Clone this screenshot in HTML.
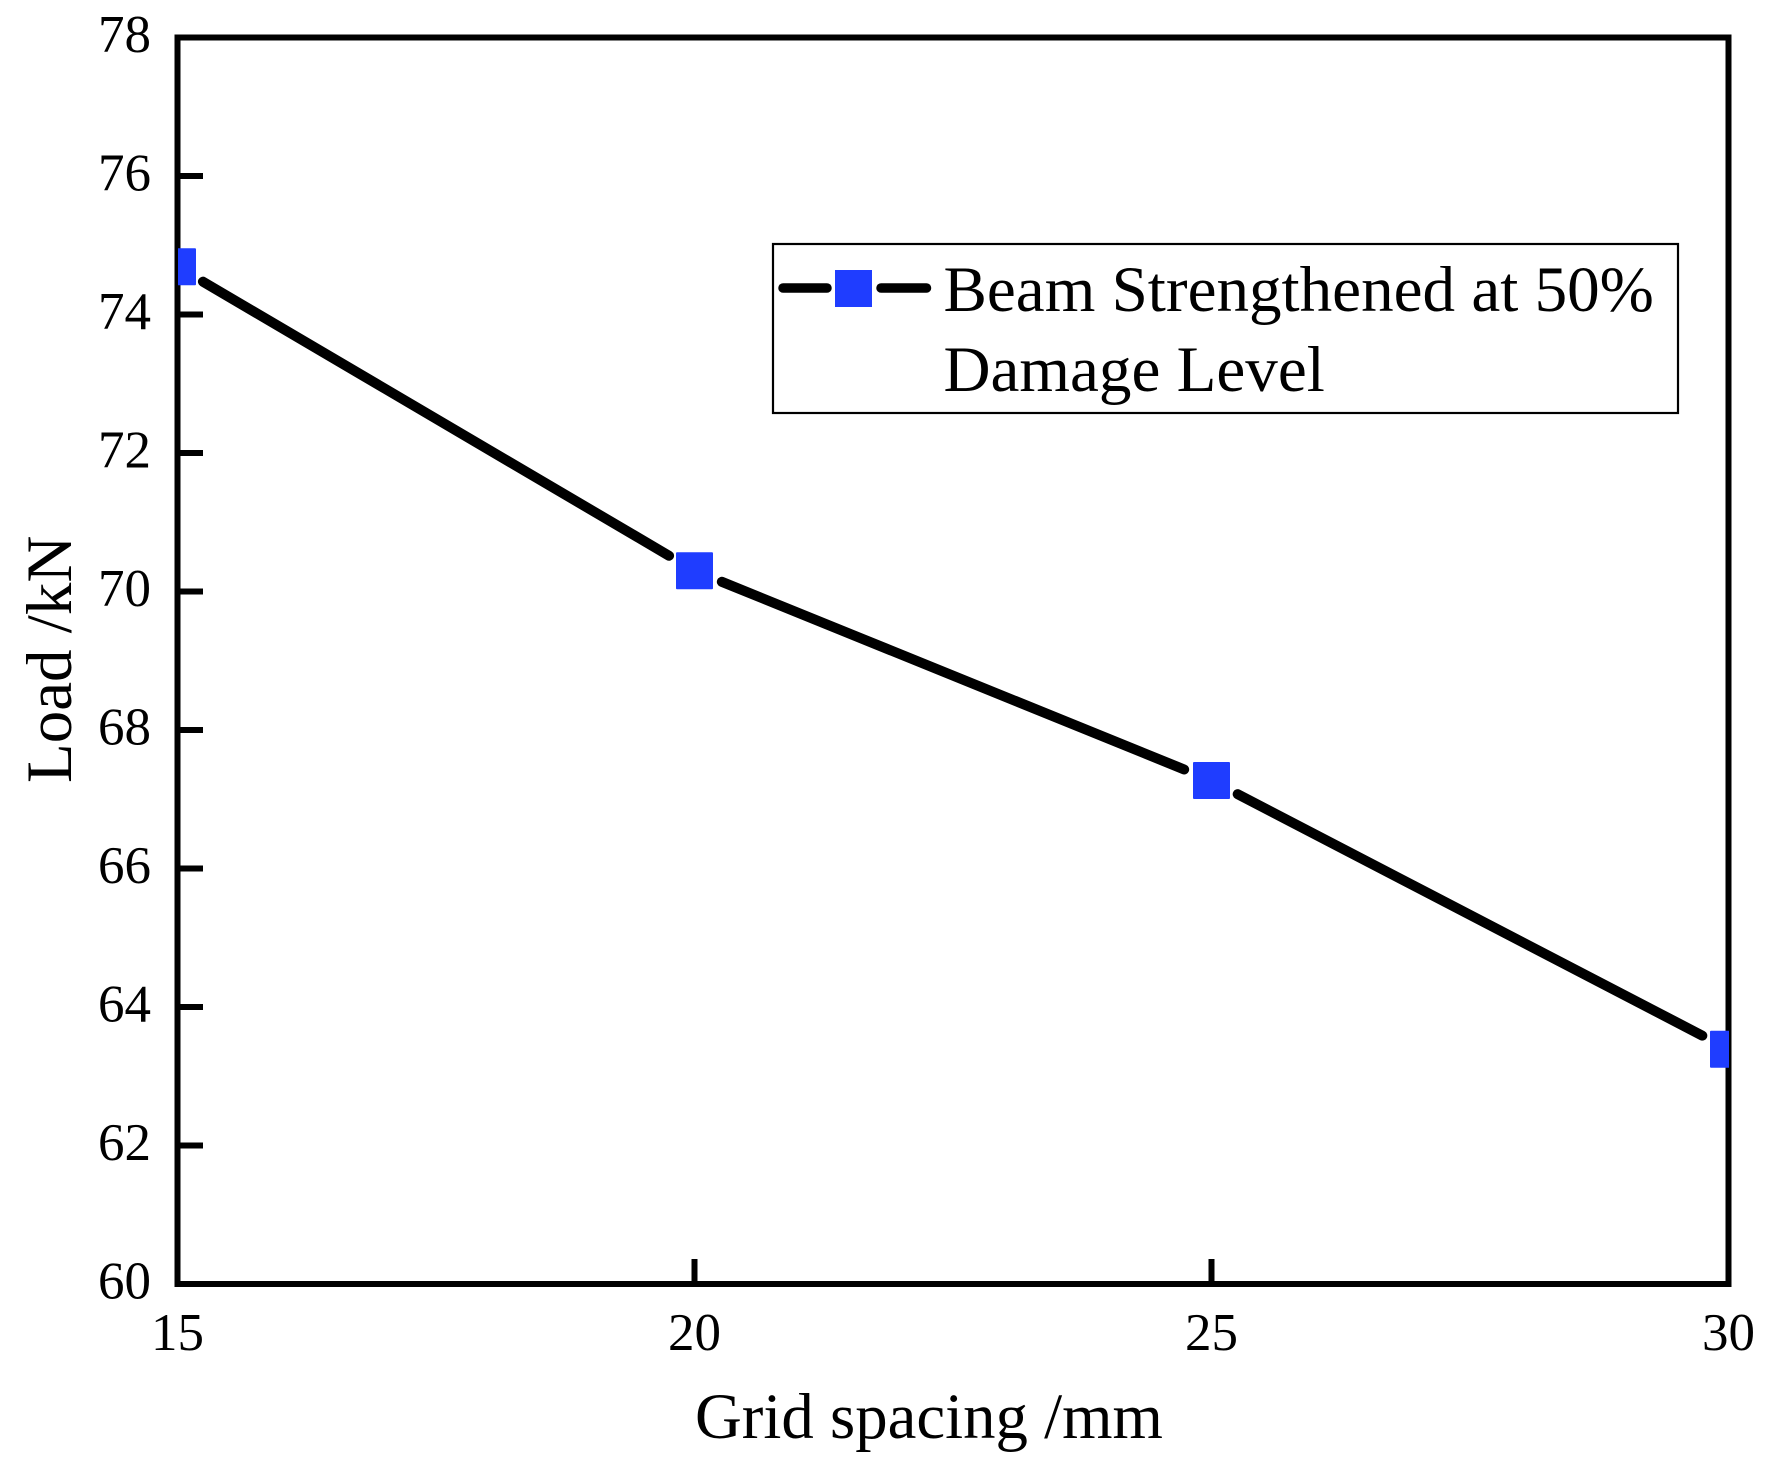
<!DOCTYPE html>
<html lang="en">
<head>
<meta charset="utf-8">
<title>Load vs Grid spacing</title>
<style>
html,body{margin:0;padding:0;background:#fff;}
svg{display:block;}
text{font-family:"Liberation Serif",serif;fill:#000;}
</style>
</head>
<body>
<svg id="chart" xmlns="http://www.w3.org/2000/svg" width="1773" height="1474" viewBox="0 0 1773 1474">
  <rect x="0" y="0" width="1773" height="1474" fill="#fff"/>
  <defs>
    <clipPath id="plot-clip"><rect x="178" y="37.5" width="1551" height="1246.5"/></clipPath>
  </defs>
  <rect x="177.5" y="37.5" width="1551" height="1246.5" fill="none" stroke="#000" stroke-width="6"/>
  <g id="ticks"></g>
  <g id="series" clip-path="url(#plot-clip)"></g>
  <text x="695" y="1438" font-size="64.8">Grid spacing /mm</text>
  <text transform="translate(71,783) rotate(-90)" font-size="65">Load /kN</text>
  <g>
    <rect x="773" y="244" width="905" height="169" fill="#fff" stroke="#000" stroke-width="2.2"/>
    <line x1="783" y1="288" x2="827" y2="288" stroke="#000" stroke-width="9.5" stroke-linecap="round"/>
    <line x1="881" y1="288" x2="926.5" y2="288" stroke="#000" stroke-width="9.5" stroke-linecap="round"/>
    <rect x="835" y="270" width="37" height="37" fill="#1f3dff"/>
    <text x="943.5" y="311" font-size="65.1">Beam Strengthened at 50%</text>
    <text x="943.5" y="391" font-size="65.1">Damage Level</text>
  </g>
</svg>
<script>
const gridSpacing = [15, 20, 25, 30];
const loadValues = [74.69, 70.30, 67.27, 63.39];
const xTickValues = [15, 20, 25, 30];
const yTickValues = [60, 62, 64, 66, 68, 70, 72, 74, 76, 78];

const NS = 'http://www.w3.org/2000/svg';
const plot = {left: 177.5, right: 1728.5, top: 37.5, bottom: 1284};
const xDomain = [15, 30];
const yDomain = [60, 78];
function xScale(v) { return plot.left + (v - xDomain[0]) / (xDomain[1] - xDomain[0]) * (plot.right - plot.left); }
function yScale(v) { return plot.bottom - (v - yDomain[0]) / (yDomain[1] - yDomain[0]) * (plot.bottom - plot.top); }

function make(tag, attrs, parent) {
  const el = document.createElementNS(NS, tag);
  for (const k in attrs) el.setAttribute(k, attrs[k]);
  parent.appendChild(el);
  return el;
}

const ticksGroup = document.getElementById('ticks');
const seriesGroup = document.getElementById('series');

yTickValues.forEach(function (v) {
  const y = yScale(v);
  if (v !== yDomain[0] && v !== yDomain[1]) {
    const t = make('line', {x1: plot.left, x2: 203, y1: y, y2: y, stroke: '#000', 'stroke-width': 6}, ticksGroup);
    
    
  }
  const label = make('text', {x: 151, y: y + 14.5, 'font-size': 53, 'text-anchor': 'end'}, ticksGroup);
  label.textContent = String(v);
  
  
});

xTickValues.forEach(function (v) {
  const x = xScale(v);
  if (v !== xDomain[0] && v !== xDomain[1]) {
    const t = make('line', {x1: x, x2: x, y1: 1259, y2: plot.bottom, stroke: '#000', 'stroke-width': 6}, ticksGroup);
    
    
  }
  const label = make('text', {x: x, y: 1350, 'font-size': 53, 'text-anchor': 'middle'}, ticksGroup);
  label.textContent = String(v);
  
  
});

const GAP = 29.5;
const MARKER = 37;
for (let i = 0; i < gridSpacing.length - 1; i++) {
  const x0 = xScale(gridSpacing[i]);
  const y0 = yScale(loadValues[i]);
  const x1 = xScale(gridSpacing[i + 1]);
  const y1 = yScale(loadValues[i + 1]);
  const len = Math.hypot(x1 - x0, y1 - y0);
  const ux = (x1 - x0) / len;
  const uy = (y1 - y0) / len;
  const seg = make('line', {
    x1: x0 + ux * GAP, y1: y0 + uy * GAP,
    x2: x1 - ux * GAP, y2: y1 - uy * GAP,
    stroke: '#000', 'stroke-width': 10, 'stroke-linecap': 'round'
  }, seriesGroup);
  
  
}
gridSpacing.forEach(function (g, i) {
  const m = make('rect', {
    x: xScale(g) - MARKER / 2, y: yScale(loadValues[i]) - MARKER / 2,
    width: MARKER, height: MARKER, rx: 1, fill: '#1f3dff'
  }, seriesGroup);
  
  
});
</script>
</body>
</html>
